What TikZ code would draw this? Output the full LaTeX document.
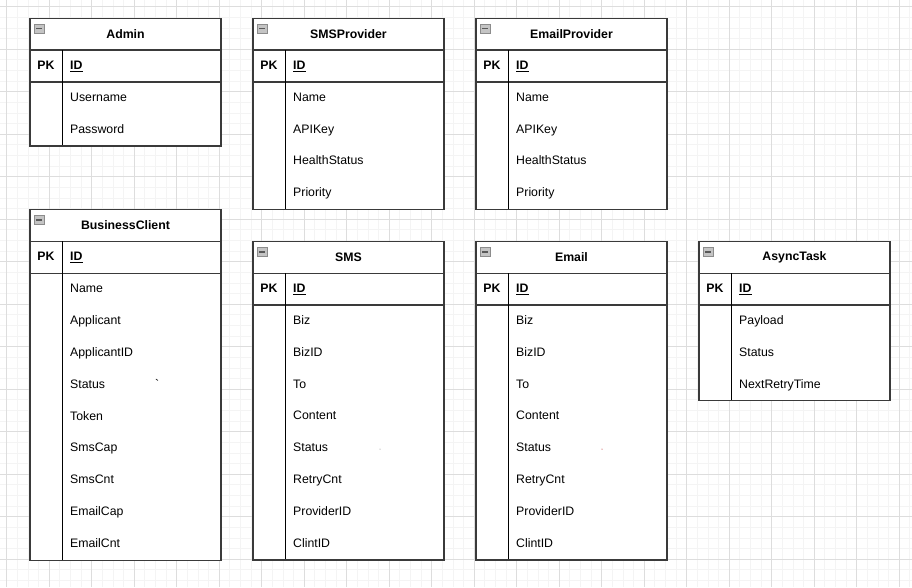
\documentclass[tikz,border=0pt]{standalone}
\usepackage{fontspec}
\setmainfont{Liberation Sans}
\usepackage{tikz}
\definecolor{gridminor}{HTML}{F4F4F4}
\definecolor{gridmajor}{HTML}{DDDDDD}
\definecolor{tblline}{HTML}{3A3A3A}
\definecolor{iconfill}{HTML}{C4C4C4}
\definecolor{icondraw}{HTML}{8C8C8C}
\tikzset{
  % --- background grid ---
  minorline/.style={draw=gridminor, line width=0.9pt},
  majorline/.style={draw=gridmajor, line width=0.9pt},
  % --- entity tables ---
  tblframe/.style={draw=tblline, line width=1.4pt},
  headline/.style={draw=tblline, line width=1.4pt},
  colline/.style={draw=black, line width=1pt},
  tbltitle/.style={font=\fontsize{12.3}{14}\selectfont\bfseries, inner sep=0pt},
  pkcell/.style={font=\fontsize{12.3}{14}\selectfont\bfseries, inner sep=0pt,
                 text height=9pt, text depth=2.5pt},
  keyfield/.style={pkcell, anchor=west},
  field/.style={anchor=west, inner sep=0pt, text height=9pt, text depth=2.5pt},
  collapse/.style={draw=icondraw, fill=iconfill, minimum width=10pt,
                   minimum height=9pt, inner sep=0pt,
                   path picture={\draw[black!65, line width=1.3pt]
                     ([xshift=-3pt]path picture bounding box.center) --
                     ([xshift=3pt]path picture bounding box.center);}},
}
% name, x, y, title, number of plain rows, plain fields
\newcommand{\ertable}[6]{%
  \coordinate (#1) at (#2,#3);
  \path[fill=white] (#1) rectangle ++(191,{(#5+2)*31.875});
  \node[collapse] (#1-min) at ([shift={(9,10.5)}]#1) {};
  \node[tbltitle] (#1-title) at ([shift={(95.5,15.9)}]#1) {#4};
  \node[pkcell] (#1-pk) at ([shift={(16,47.8)}]#1) {PK};
  \node[keyfield] (#1-id) at ([shift={(40,47.8)}]#1) {\underline{ID}};
  \foreach \f [count=\i] in {#6}
    \node[field] (#1-f\i) at ([shift={(40,{47.8+\i*31.875})}]#1) {\f};
  \draw[headline] ([shift={(0,31.875)}]#1) -- ++(191,0);
  \draw[headline] ([shift={(0,63.75)}]#1) -- ++(191,0);
  \draw[colline] ([shift={(32,31.875)}]#1) -- ++(0,{(#5+1)*31.875});
  \draw[tblframe] (#1) rectangle ++(191,{(#5+2)*31.875});
}

\begin{document}
\begin{tikzpicture}[x=1pt, y=-1pt, font=\fontsize{12.3}{14}\selectfont]
  \useasboundingbox[fill=white] (0,0) rectangle (912,587);

  % --- background grid ---
  \foreach \k in {0,...,85}
    \draw[minorline] ({6.8+\k*10.625},0) -- ++(0,587);
  \foreach \k in {0,...,54}
    \draw[minorline] (0,{6.8+\k*10.625}) -- ++(912,0);
  \foreach \k in {0,...,21}
    \draw[majorline] ({6.8+\k*42.5},0) -- ++(0,587);
  \foreach \k in {0,...,13}
    \draw[majorline] (0,{6.8+\k*42.5}) -- ++(912,0);

  % --- top row ---
  \ertable{admin}{30}{18.3}{Admin}{2}{Username,Password}
  \ertable{smsprov}{253}{18.3}{SMSProvider}{4}{Name,APIKey,HealthStatus,Priority}
  \ertable{mailprov}{476}{18.3}{EmailProvider}{4}{Name,APIKey,HealthStatus,Priority}

  % --- lower row ---
  \ertable{client}{30}{209.6}{BusinessClient}{9}{Name,Applicant,ApplicantID,
    {Status\hspace{50pt}\textasciigrave},Token,SmsCap,SmsCnt,EmailCap,EmailCnt}
  \ertable{sms}{253}{241.4}{SMS}{8}{Biz,BizID,To,Content,Status,RetryCnt,
    ProviderID,ClintID}
  \ertable{mail}{476}{241.4}{Email}{8}{Biz,BizID,To,Content,Status,RetryCnt,
    ProviderID,ClintID}
  \ertable{task}{699}{241.4}{AsyncTask}{3}{Payload,Status,NextRetryTime}

  % stray marks
  \fill[gray] (380,449) circle (0.5);
  \fill[red!70!black] (602,449) circle (0.5);
\end{tikzpicture}
\end{document}
